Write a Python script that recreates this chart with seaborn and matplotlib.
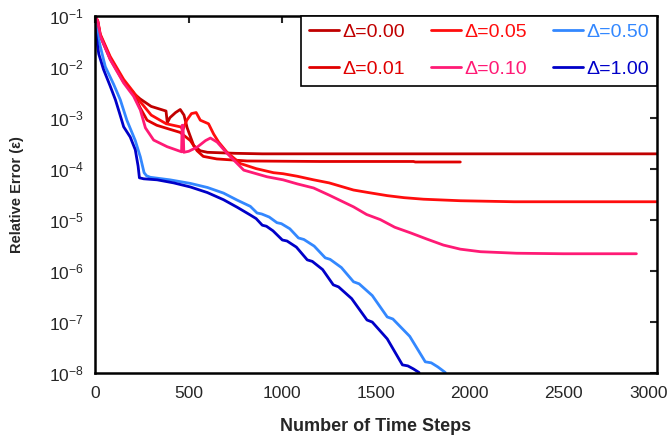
import numpy as np
import pandas as pd
import matplotlib
matplotlib.use("Agg")
import matplotlib.pyplot as plt
import matplotlib.transforms as mtransforms
import seaborn as sns
from matplotlib.ticker import LogLocator, LogFormatterSciNotation, NullLocator

# values (y stored as log10 of the relative error)
steps_000 = [0, 15, 28, 81, 153, 206, 240, 300, 379, 386, 400, 430, 455, 475, 492, 527, 562, 600, 750, 893, 3000]
logerr_000 = [-1.0, -1.15, -1.40, -1.85, -2.30, -2.52, -2.63, -2.78, -2.87, -3.10, -3.00, -2.90, -2.84, -2.95, -3.20, -3.55, -3.65, -3.68, -3.70, -3.71, -3.71]

steps_001 = [0, 15, 28, 81, 153, 206, 240, 278, 330, 392, 455, 509, 545, 578, 650, 812, 1200, 1700, 1710, 1950]
logerr_001 = [-1.0, -1.12, -1.38, -1.83, -2.28, -2.52, -2.80, -3.05, -3.15, -3.22, -3.29, -3.45, -3.65, -3.76, -3.81, -3.85, -3.86, -3.86, -3.87, -3.87]

steps_005 = [0, 15, 28, 81, 153, 206, 240, 300, 380, 455, 471, 490, 515, 540, 562, 606, 633, 660, 705, 776, 860, 953, 1004,
             1080, 1167, 1250, 1380, 1460, 1560, 1650, 1753, 1950, 2236, 3000]
logerr_005 = [-1.0, -1.10, -1.36, -1.80, -2.25, -2.50, -2.68, -2.95, -3.12, -3.18, -3.22, -3.05, -2.92, -2.90, -3.05, -3.12, -3.32,
              -3.48, -3.68, -3.90, -4.00, -4.08, -4.10, -4.15, -4.22, -4.28, -4.42, -4.47, -4.53, -4.57, -4.60, -4.63, -4.65, -4.65]

steps_010 = [0, 15, 28, 81, 153, 206, 242, 269, 313, 385, 462, 465, 470, 474, 500, 545, 590, 616, 652, 705, 794, 918, 1004,
             1080, 1167, 1250, 1380, 1450, 1523, 1600, 1684, 1770, 1860, 1950, 2058, 2250, 2500, 2890]
logerr_010 = [-1.0, -1.12, -1.40, -1.86, -2.32, -2.58, -2.85, -3.20, -3.44, -3.57, -3.67, -3.15, -3.15, -3.68, -3.66, -3.58,
              -3.45, -3.40, -3.48, -3.70, -4.03, -4.16, -4.22, -4.30, -4.38, -4.52, -4.75, -4.90, -5.00, -5.15, -5.26, -5.38,
              -5.50, -5.58, -5.63, -5.66, -5.67, -5.67]

steps_050 = [0, 28, 55, 100, 135, 170, 215, 242, 262, 275, 295, 400, 509, 600, 686, 760, 829, 865, 890, 930, 971, 995,
             1040, 1086, 1115, 1170, 1229, 1255, 1315, 1380, 1410, 1480, 1560, 1590, 1680, 1763, 1795, 1830, 1870]
logerr_050 = [-1.15, -1.60, -2.00, -2.35, -2.65, -3.05, -3.45, -3.77, -4.08, -4.14, -4.17, -4.22, -4.29, -4.37, -4.48,
              -4.62, -4.74, -4.87, -4.89, -4.95, -5.06, -5.08, -5.18, -5.36, -5.39, -5.52, -5.75, -5.78, -5.94, -6.22,
              -6.26, -6.49, -6.91, -6.95, -7.29, -7.79, -7.81, -7.89, -8.0]

steps_100 = [0, 20, 45, 81, 109, 130, 153, 188, 215, 230, 237, 260, 332, 420, 509, 600, 686, 760, 829, 860, 893, 915,
             950, 1000, 1025, 1075, 1133, 1160, 1215, 1272, 1300, 1370, 1452, 1480, 1560, 1641, 1670, 1700, 1730]
logerr_100 = [-1.25, -1.75, -2.05, -2.38, -2.65, -2.90, -3.18, -3.38, -3.63, -3.95, -4.18, -4.20, -4.22, -4.28, -4.36,
              -4.47, -4.61, -4.76, -4.91, -4.98, -5.11, -5.13, -5.22, -5.40, -5.42, -5.54, -5.79, -5.82, -5.98, -6.28,
              -6.32, -6.55, -6.97, -7.01, -7.34, -7.85, -7.87, -7.93, -8.0]

labels = ["Δ=0.00", "Δ=0.01", "Δ=0.05", "Δ=0.10", "Δ=0.50", "Δ=1.00"]
colors = ["#c00000", "#e00000", "#ff0d0d", "#ff1a75", "#3388ff", "#0000c8"]

series = [(steps_000, logerr_000), (steps_001, logerr_001), (steps_005, logerr_005),
          (steps_010, logerr_010), (steps_050, logerr_050), (steps_100, logerr_100)]

frames = []
for lab, (s, le) in zip(labels, series):
    frames.append(pd.DataFrame({"step": s, "err": 10.0 ** np.array(le), "delta": lab}))
df = pd.concat(frames, ignore_index=True)

sns.set_style("white")
plt.rcParams["font.family"] = ["Liberation Sans", "DejaVu Sans"]
plt.rcParams["mathtext.fontset"] = "custom"
plt.rcParams["mathtext.rm"] = "Liberation Sans"
plt.rcParams["mathtext.default"] = "regular"

fig = plt.figure(figsize=(6.7, 4.36), dpi=100)
ax = fig.add_axes([0.1418, 0.1456, 0.8388, 0.8184])

sns.lineplot(data=df, x="step", y="err", hue="delta", palette=dict(zip(labels, colors)),
             estimator=None, sort=False, lw=2.0, ax=ax, legend=False)

ax.set_yscale("log")
ax.set_xlim(0, 3000)
ax.set_ylim(1e-8, 1e-1)
ax.set_xticks([0, 500, 1000, 1500, 2000, 2500, 3000])
ax.yaxis.set_major_locator(LogLocator(base=10, numticks=10))
ax.yaxis.set_major_formatter(LogFormatterSciNotation())
ax.yaxis.set_minor_locator(NullLocator())

ax.tick_params(direction="in", length=5, width=1.5, top=True, right=True,
               labelsize=12.5, pad=8)
ax.tick_params(axis="x", pad=10)
for sp in ax.spines.values():
    sp.set_linewidth(1.8)
    sp.set_color("black")

# keep the last x label inside the canvas
fig.canvas.draw()
last = ax.get_xticklabels()[-1]
last.set_transform(last.get_transform() + mtransforms.ScaledTranslation(-8 / 100, 0, fig.dpi_scale_trans))

ax.set_xlabel("Number of Time Steps", fontsize=13, fontweight="bold", labelpad=12)
ax.set_ylabel("Relative Error (ε)", fontsize=10.5, fontweight="bold", labelpad=18)

handles = [plt.Line2D([], [], color=c, lw=2.0) for c in colors]
leg = ax.legend(handles, labels, ncol=3, loc="upper right", borderaxespad=0,
                fontsize=14, frameon=True, fancybox=False, framealpha=1,
                edgecolor="black", handlelength=1.55, handletextpad=0.2,
                columnspacing=1.3, labelspacing=1.0, borderpad=0.4,
                labelcolor="linecolor")
leg.get_frame().set_linewidth(1.2)

fig.savefig("out.png", dpi=100)
